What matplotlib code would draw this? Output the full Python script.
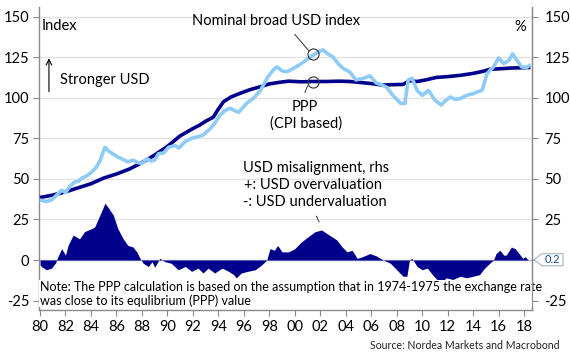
import numpy as np
import matplotlib
matplotlib.use("Agg")
from matplotlib import pyplot as plt, ticker, transforms
from matplotlib.patches import Polygon

# data (decimal years)
ppp_years = [1980.0, 1981.0, 1982.0, 1983.0, 1984.0, 1985.0, 1986.0, 1987.0, 1988.0, 1989.0,
             1990.0, 1991.0, 1992.0, 1992.5, 1993.0, 1993.6, 1994.0, 1994.4, 1995.0, 1995.7,
             1996.5, 1997.3, 1998.0, 1998.8, 1999.5, 2000.5, 2001.4, 2002.5, 2003.5, 2004.3,
             2005.0, 2005.9, 2006.9, 2007.5, 2008.5, 2009.0, 2009.6, 2010.3, 2011.1, 2012.0,
             2013.0, 2014.0, 2014.8, 2015.3, 2016.0, 2017.0, 2018.0, 2018.5]
ppp_values = [38.5, 40, 42, 44.5, 47, 50.5, 53, 56, 60, 64.7,
              70, 76.5, 81, 83, 85.5, 88, 93, 97.5, 100.5, 102.7,
              105, 106.8, 108.5, 109.5, 110.2, 109.8, 110, 110, 110.2, 110,
              109.5, 108.8, 107.8, 108, 108.2, 110.5, 110, 111, 112.5, 113,
              113.8, 115, 116.3, 117.5, 117.8, 118.3, 118.5, 118.6]

nom_years = [1980.0, 1980.5, 1980.9, 1981.3, 1981.7, 1982.0, 1982.3, 1982.7, 1983.0, 1983.3,
             1983.7, 1984.1, 1984.4, 1984.7, 1985.1, 1985.4, 1985.8, 1986.1, 1986.5, 1986.9,
             1987.3, 1987.7, 1988.0, 1988.4, 1988.7, 1989.0, 1989.3, 1989.7, 1990.1, 1990.6,
             1990.9, 1991.4, 1991.9, 1992.4, 1992.8, 1993.3, 1993.7, 1994.1, 1994.5, 1994.9,
             1995.3, 1995.6, 1996.2, 1996.8, 1997.3, 1997.9, 1998.3, 1998.6, 1999.0, 1999.4,
             2000.1, 2000.6, 2001.2, 2001.7, 2002.2, 2002.6, 2003.0, 2003.4, 2003.8, 2004.3,
             2004.8, 2005.4, 2005.9, 2006.4, 2006.8, 2007.2, 2007.7, 2008.0, 2008.3, 2008.65,
             2008.9, 2009.2, 2009.6, 2010.0, 2010.5, 2011.0, 2011.5, 2011.8, 2012.2, 2012.6,
             2013.0, 2013.5, 2014.0, 2014.3, 2014.7, 2015.1, 2015.6, 2016.0, 2016.4, 2016.8,
             2017.1, 2017.4, 2017.8, 2018.2, 2018.5]
nom_values = [37, 36, 37, 40, 43, 41.5, 45, 48, 48.5, 50.5,
              52, 54.5, 57, 61, 69.5, 67, 65, 63.5, 62, 60.5,
              61.5, 60, 59.5, 62.5, 61, 61.5, 65.5, 66, 69.5, 70.5,
              69, 73, 75, 76, 77, 80.5, 84, 89, 92, 93.5,
              92, 91, 96.5, 100, 104.5, 113, 117, 119, 116.5, 116,
              119, 121.5, 125, 127.5, 129.5, 127, 125, 121, 118, 116,
              111, 112, 113.5, 109, 108, 106.5, 101.5, 99, 96.5, 96.5,
              111, 112, 104.5, 101.5, 104.5, 98.5, 95.5, 98, 100.5, 99,
              99.5, 101.5, 102.5, 103.5, 104.5, 115, 119, 124.5, 121, 123,
              127, 123.5, 119, 118.5, 120.5]

mis_years = [1980.0, 1980.1, 1980.5, 1980.9, 1981.2, 1981.4, 1981.7, 1982.0, 1982.2, 1982.6,
             1982.9, 1983.1, 1983.5, 1984.1, 1984.3, 1984.7, 1985.1, 1985.4, 1985.75, 1986.1,
             1986.5, 1986.9, 1987.3, 1987.6, 1987.85, 1988.1, 1988.5, 1988.8, 1989.0, 1989.4,
             1989.8, 1990.3, 1990.85, 1991.4, 1991.9, 1992.4, 1992.8, 1993.2, 1993.7, 1994.3,
             1994.8, 1995.2, 1995.4, 1995.8, 1996.3, 1996.9, 1997.4, 1997.8, 1998.05, 1998.4,
             1998.65, 1999.0, 1999.5, 2000.0, 2000.5, 2001.05, 2001.6, 2002.1, 2002.5, 2002.9,
             2003.3, 2003.7, 2004.1, 2004.5, 2004.9, 2005.3, 2005.9, 2006.4, 2006.95, 2007.5,
             2008.0, 2008.5, 2008.8, 2009.0, 2009.2, 2009.6, 2010.0, 2010.4, 2010.8, 2011.4,
             2011.9, 2012.4, 2013.0, 2013.5, 2014.0, 2014.5, 2014.9, 2015.3, 2015.6, 2015.8,
             2016.1, 2016.4, 2016.6, 2017.0, 2017.3, 2017.7, 2017.9, 2018.1, 2018.3]
mis_values = [-3, -4, -6, -5, -2, 2, 7, 3, 9, 15.4,
              14, 13, 17.5, 19.5, 20.5, 27.7, 35, 31.8, 27.7, 19.5,
              13.4, 9, 8, 5, 1, -2, -4, -1, -4.5, 1,
              -1, -2, -6, -4, -7, -5, -8, -5, -8, -5,
              -7, -9, -11, -8, -7, -6, -3, 0, 7, 6,
              9, 5, 5, 7, 11, 14.4, 17.5, 18.5, 16.4, 14.4,
              12.3, 8.2, 5, 6, 1, 2, 4, 2.5, 0, -2,
              -6, -10, -10, 0, 1, -4, -6, -5, -9, -14,
              -11, -12, -10, -11, -10, -9, -5, -2, 0, 4,
              6, 3, 3, 8, 7, 3, 1, 2, 0.2]

year_ticks = list(range(1980, 2019, 2))
year_labels = [f"{y % 100:02d}" for y in year_ticks]
value_ticks = [-25, 0, 25, 50, 75, 100, 125, 150]

DARK = "#00008c"
LIGHT = "#8ecbf7"
GRID = "#e3e3e3"
SPINE = "#8a8a8a"

plt.rcParams["font.family"] = ["Lato", "DejaVu Sans"]
plt.rcParams["axes.unicode_minus"] = False

fig = plt.figure(figsize=(5.7, 3.6), dpi=100)
ax = fig.add_axes([39 / 570, 1 - 310 / 360, 493 / 570, 303 / 360])

ax.fill_between(mis_years, mis_values, 0, color=DARK, linewidth=0, zorder=2)
ax.axhline(0, color="#b9b9d6", linewidth=1, zorder=1)
ax.plot(ppp_years, ppp_values, color=DARK, linewidth=2.6, zorder=3, solid_capstyle="butt")
ax.plot(nom_years, nom_values, color=LIGHT, linewidth=2.6, zorder=4, solid_capstyle="butt")

ylim = (-30.8, 155.9)
ax.set_xlim(1979.92, 2018.62)
ax.set_ylim(*ylim)
ax.set_xticks(year_ticks)
ax.set_xticklabels(year_labels)
ax.set_yticks(value_ticks)
ax.yaxis.set_major_formatter(ticker.FormatStrFormatter("%d"))
ax.grid(axis="y", color=GRID, linewidth=1)
ax.set_axisbelow(True)

ax.spines["top"].set_visible(False)
for side in ["left", "right", "bottom"]:
    ax.spines[side].set_color(SPINE)
    ax.spines[side].set_linewidth(1)
ax.tick_params(axis="y", length=4, color=SPINE, labelsize=10.5, pad=3)
ax.tick_params(axis="x", length=4, color=SPINE, labelsize=10.5, pad=3)

# right-hand scale (misalignment, %); the 0 label sits under the value tag
ax2 = ax.twinx()
ax2.set_ylim(*ylim)
ax2.set_yticks(value_ticks)
ax2.set_yticklabels(["" if v == 0 else str(v) for v in value_ticks])
ax2.tick_params(axis="y", length=4, color=SPINE, labelsize=10.5, pad=5)
for side in ["top", "left", "bottom"]:
    ax2.spines[side].set_visible(False)
ax2.spines["right"].set_color(SPINE)

txt = dict(fontsize=10.5, color="black")
ax.text(0.005, 0.937, "Index", transform=ax.transAxes, ha="left", va="center", **txt)
ax.text(0.988, 0.934, "%", transform=ax.transAxes, ha="right", va="center", **txt)
ax.annotate("", xy=(1980.7, 126), xytext=(1980.7, 102),
            arrowprops=dict(arrowstyle="->", color="black", lw=0.8))
ax.text(1981.6, 111, "Stronger USD", ha="left", va="center", **txt)

# circles and leader lines
circ_x = 2001.4
for cy in (126.7, 109.8):
    ax.plot([circ_x], [cy], marker="o", markersize=8, markerfacecolor="none",
            markeredgecolor="#333333", markeredgewidth=0.8, zorder=5)
ax.plot([2000.0, 2001.1], [139.0, 129.0], color="#333333", lw=0.7)
ax.plot([2001.0, 2000.8], [107.3, 103.2], color="#333333", lw=0.7)
ax.text(1998.5, 147, "Nominal broad USD index", ha="center", va="center", **txt)
ax.text(2000.8, 94.3, "PPP", ha="center", va="center", **txt)
ax.text(2000.9, 84, "(CPI based)", ha="center", va="center", **txt)

ax.text(2001.7, 56.5, "USD misalignment, rhs", ha="center", va="center", **txt)
ax.text(2001.4, 46, "+: USD overvaluation", ha="center", va="center", **txt)
ax.text(2001.6, 35.5, "-: USD undervaluation", ha="center", va="center", **txt)
ax.plot([2001.7, 2001.9], [27, 23.5], color="#333333", lw=0.7)

ax.text(1980.0, -20.8, "Note: The PPP calculation is based on the assumption that in 1974-1975 the exchange rate\n"
        "was close to its equlibrium (PPP) value", ha="left", va="center", fontsize=9.0,
        linespacing=1.1, color="black", zorder=6,
        bbox=dict(facecolor="white", edgecolor="none", pad=0.5))

fig.text(0.982, 0.04, "Source: Nordea Markets and Macrobond", ha="right", va="center",
         fontsize=7.6, color="#222222")

# value tag on the right axis
last_val = mis_values[-1]
blend = transforms.blended_transform_factory(ax.transAxes, ax.transData)
px = 1 / 493
h = 6 / 1.623
tag = Polygon([(1 + 2 * px, last_val), (1 + 10 * px, last_val + h), (1 + 31 * px, last_val + h),
               (1 + 31 * px, last_val - h), (1 + 10 * px, last_val - h)],
              closed=True, transform=blend, clip_on=False, facecolor="white",
              edgecolor="#9fb6cf", linewidth=0.8, zorder=6)
ax2.add_patch(tag)
ax2.text(1 + 20.5 * px, last_val, f"{last_val:.1f}", transform=blend, ha="center", va="center",
         fontsize=8, color="#1f4e8c", clip_on=False, zorder=7)

fig.savefig("out.png", dpi=100)
